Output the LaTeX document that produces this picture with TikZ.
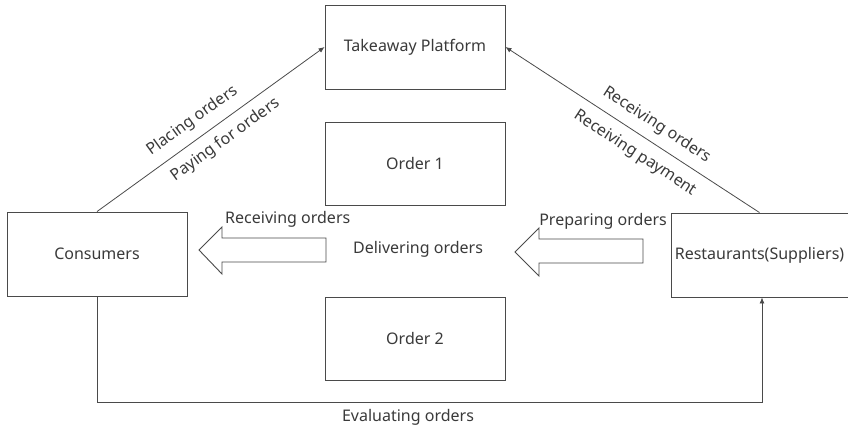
\documentclass[tikz,border=0pt]{standalone}
\usepackage{fontspec}
\setmainfont{Noto Sans}
\usetikzlibrary{arrows.meta,calc}
\definecolor{ink}{HTML}{3A3A3A}
\definecolor{edge}{HTML}{4A4A4A}
\begin{document}
\begin{tikzpicture}[x=1pt,y=-1pt,
  font=\fontsize{16}{19}\selectfont, text=ink,
  box/.style={draw=edge, line width=0.9pt, rectangle, inner sep=0pt},
  flow/.style={draw=edge, line width=0.8pt, -{Latex[length=6pt,width=5pt]}},
  blockarrow/.style={draw=edge, line width=0.9pt, fill=white, line join=miter},
  lbl/.style={inner sep=1pt}
]
\useasboundingbox[fill=white] (0,0) rectangle (848,429);

% main boxes
\node[box, minimum width=180pt, minimum height=84pt] (takeaway) at (415,47) {Takeaway Platform};
\node[box, minimum width=180pt, minimum height=83pt] (order1) at (415,163.5) {Order 1};
\node[box, minimum width=180pt, minimum height=83pt] (order2) at (415,338.5) {Order 2};
\node[box, minimum width=180pt, minimum height=84pt] (consumers) at (97,254) {Consumers};
\node[box, minimum width=177pt, minimum height=84pt] (restaurants) at (759.5,255) {Restaurants(Suppliers)};

% placing and paying
\draw[flow] (consumers.north) -- (takeaway.west)
  node[lbl, pos=0.465, sloped, above=8pt] {Placing orders}
  node[lbl, pos=0.52, sloped, below=8pt] {Paying for orders};

% receiving orders and payment
\draw[flow] (restaurants.north) -- (takeaway.east)
  node[lbl, pos=0.44, sloped, above=8pt] {Receiving orders}
  node[lbl, pos=0.45, sloped, below=9pt] {Receiving payment};

% evaluation loop back to the restaurants
\coordinate (evalcorner) at (762,402);
\draw[flow] (consumers.south) |- (evalcorner) -- (evalcorner |- restaurants.south);
\node[lbl] (evaluating) at (408,417) {Evaluating orders};

% hollow block arrows
\draw[blockarrow] (199,250) -- (222,227) -- (222,238) -- (326,238) -- (326,262)
  -- (222,262) -- (222,274) -- cycle;
\draw[blockarrow] (515,252) -- (539,228) -- (539,239) -- (643,239) -- (643,263)
  -- (539,263) -- (539,276) -- cycle;

\node[lbl, anchor=west] (receiving) at (224,219) {Receiving orders};
\node[lbl] (delivering) at (418,249) {Delivering orders};
\node[lbl, anchor=east] (preparing) at (668,221) {Preparing orders};
\end{tikzpicture}
\end{document}
